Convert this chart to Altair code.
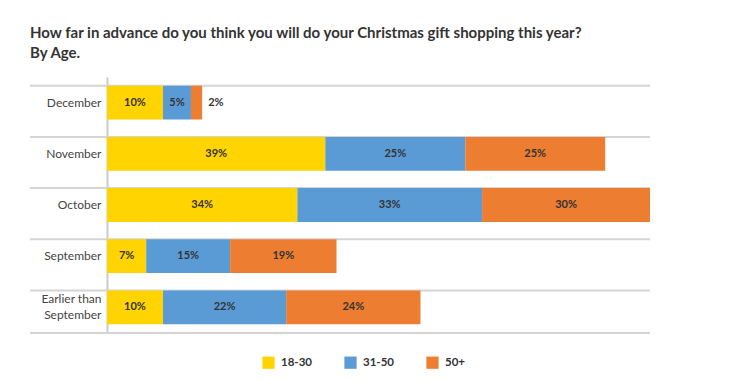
import altair as alt
import pandas as pd

categories = ["December", "November", "October", "September", "Earlier than September"]
groups = ["18-30", "31-50", "50+"]
v_18_30 = [10, 39, 34, 7, 10]
v_31_50 = [5, 25, 33, 15, 22]
v_50_plus = [2, 25, 30, 19, 24]
colors = ["#FFD400", "#5B9BD5", "#ED7D31"]

series = [v_18_30, v_31_50, v_50_plus]
rows = []
for i, c in enumerate(categories):
    start = 0
    for g, vals in zip(groups, series):
        v = vals[i]
        rows.append(dict(cat=c, group=g, value=v, start=start, end=start + v,
                         mid=start + v / 2, label=f"{v}%"))
        start += v
df = pd.DataFrame(rows)

FONT = "Lato"
W, H = 543, 256

yenc = alt.Y("cat:N", sort=categories, title=None,
             scale=alt.Scale(paddingInner=0.34, paddingOuter=0.17),
             axis=alt.Axis(domain=True, domainColor="#cccccc", domainWidth=2,
                           ticks=False, grid=False, labelFont=FONT, labelFontSize=12,
                           labelColor="#444444", labelPadding=6, labelLineHeight=16,
                           labelOffset={"condition": {"test": "datum.value == 'Earlier than September'", "value": -8}, "value": 0},
                           labelExpr="datum.value == 'Earlier than September' ? ['Earlier than', 'September'] : datum.value"))
xscale = alt.Scale(domain=[0, 97], nice=False, zero=True)

bars = alt.Chart(df).mark_bar().encode(
    y=yenc,
    x=alt.X("start:Q", scale=xscale, axis=None),
    x2="end:Q",
    color=alt.Color("group:N", scale=alt.Scale(domain=groups, range=colors),
                    legend=alt.Legend(title=None, orient="none", direction="horizontal",
                                      legendX=155, legendY=279, symbolType="square",
                                      symbolSize=150, symbolStrokeWidth=0, labelFont=FONT,
                                      labelFontSize=11.5, labelFontWeight="bold",
                                      labelColor="#333333", columnPadding=32,
                                      labelOffset=6)),
)

labels_in = alt.Chart(df).transform_filter("datum.value >= 3").mark_text(
    font=FONT, fontSize=11, fontWeight="bold", color="#333333", align="center", baseline="middle"
).encode(y=alt.Y("cat:N", sort=categories), x=alt.X("mid:Q", scale=xscale), text="label:N")

labels_out = alt.Chart(df).transform_filter("datum.value < 3").mark_text(
    font=FONT, fontSize=11, fontWeight="bold", color="#333333", align="left", baseline="middle", dx=6
).encode(y=alt.Y("cat:N", sort=categories), x=alt.X("end:Q", scale=xscale), text="label:N")

rule_df = pd.DataFrame({"cat": categories})
rules = alt.Chart(rule_df).mark_rule(color="#d4d4d4", strokeWidth=2).encode(
    y=alt.Y("cat:N", sort=categories, bandPosition=0),
    x=alt.value(-77), x2=alt.value(W),
)
bottom_rule = alt.Chart(rule_df.head(1)).mark_rule(color="#d4d4d4", strokeWidth=2).encode(
    y=alt.value(H), x=alt.value(-77), x2=alt.value(W),
)

chart = alt.layer(rules, bottom_rule, bars, labels_in, labels_out).properties(
    width=W, height=H,
    autosize=alt.AutoSizeParams(type="none"),
    padding={"left": 99, "top": 69, "right": 78, "bottom": 40},
    background="white",
    title=alt.TitleParams(
        text=["How far in advance do you think you will do your Christmas gift shopping this year?", "By Age."],
        anchor="start", frame="group", dx=-77, font=FONT, fontSize=15, fontWeight="bold", color="#333333",
        lineHeight=20, offset=16,
    ),
).configure_view(stroke=None)

chart.save("out.html", embed_options={"renderer": "svg", "actions": False})
